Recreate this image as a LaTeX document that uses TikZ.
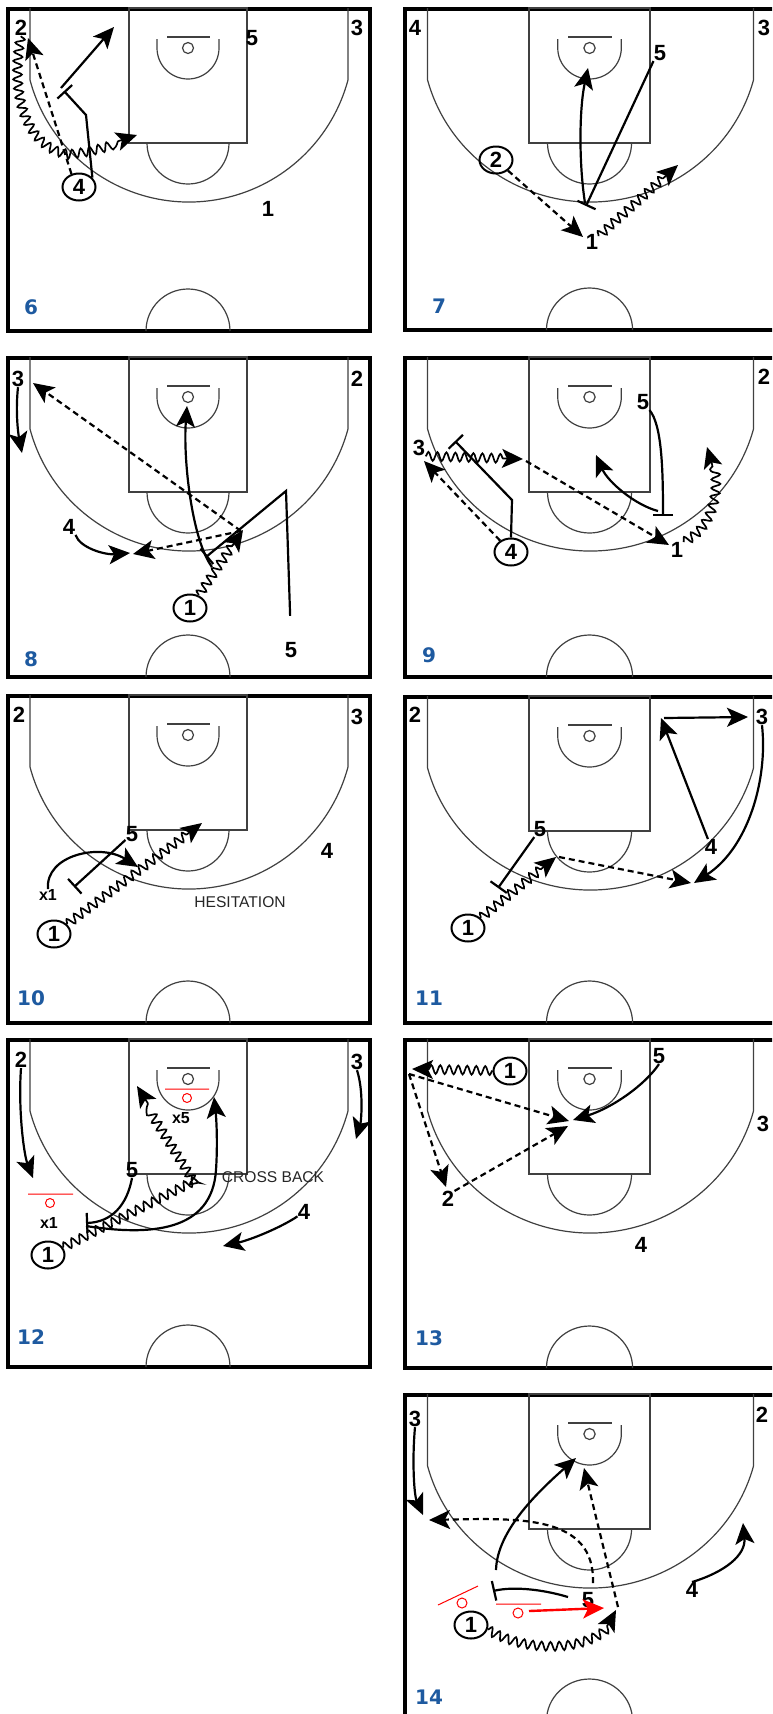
\documentclass[tikz,border=0pt]{standalone}
\usepackage{fontspec}
\setmainfont{Liberation Sans}
\newfontfamily\numfont{DejaVu Sans}
\usetikzlibrary{arrows.meta,shapes.geometric,decorations.pathmorphing}
\definecolor{numblue}{RGB}{30,90,160}

% one half court, drawn from its top left corner
\newcommand{\halfcourt}[1]{%
  \draw[courtframe] (1,1) rectangle (363,#1);
  \draw[cline] (23,0) -- (23,72) arc[start angle=165, end angle=15, radius=164.6] -- (341,0);
  \draw[cline] (122,0) rectangle (240,135);
  \draw[cline] (140,135) arc[start angle=180, end angle=0, radius=41];
  \draw[cline] (160,29) -- (203,29);
  \draw[cline] (181,40) circle[radius=5.5];
  \draw[cline] (150,31) -- (150,40) arc[start angle=180, end angle=0, radius=31] -- (212,31);
  \draw[cline] (139,#1) arc[start angle=180, end angle=360, radius=42];
}

\begin{document}
\begin{tikzpicture}[x=0.5pt, y=-0.5pt,
  >={Stealth[length=10.5pt, width=9.5pt, inset=2.5pt]},
  cline/.style={line width=0.6pt, black!75},
  courtframe/.style={line width=1.6pt},
  pl/.style={font=\bfseries\fontsize{11}{11}\selectfont, inner sep=0pt},
  pc/.style={pl, draw, ellipse, line width=1pt, minimum width=16.5pt, minimum height=13.5pt},
  xdef/.style={font=\bfseries\fontsize{8}{8}\selectfont, inner sep=0pt},
  note/.style={font=\fontsize{7.8}{8}\selectfont, text=black!85, inner sep=0pt},
  num/.style={font=\numfont\bfseries\fontsize{10}{10}\selectfont, text=numblue, inner sep=0pt},
  mv/.style={->, line width=1.1pt},
  pass/.style={mv, dash pattern=on 3pt off 2pt},
  drib/.style={->, line width=0.85pt, decorate, decoration={snake, amplitude=2.2pt, segment length=4.5pt, post length=8pt}},
  scr/.style={-{Bar[width=10pt]}, line width=1.1pt},
  dfn/.style={red, line width=0.5pt},
  redmv/.style={->, red, line width=1.2pt}
]
\useasboundingbox (0,0) rectangle (772,1714);
\clip (0,0) rectangle (772,1714);
\fill[white] (0,0) rectangle (772,1714);

% courts
\begin{scope}[shift={(7,8)}] \halfcourt{323} \end{scope}
\begin{scope}[shift={(404,8)}, xscale=1.025] \halfcourt{322} \end{scope}
\begin{scope}[shift={(7,357)}] \halfcourt{320} \end{scope}
\begin{scope}[shift={(404,357)}, xscale=1.025] \halfcourt{320} \end{scope}
\begin{scope}[shift={(7,695)}] \halfcourt{328} \end{scope}
\begin{scope}[shift={(404,696)}, xscale=1.025] \halfcourt{327} \end{scope}
\begin{scope}[shift={(7,1039)}] \halfcourt{328} \end{scope}
\begin{scope}[shift={(404,1039)}, xscale=1.025] \halfcourt{329} \end{scope}
\begin{scope}[shift={(404,1394)}, xscale=1.025] \halfcourt{327} \end{scope}

% 6
\node[num] (n6) at (31,307) {6};
\node[pl] (p6n2) at (21,28) {2};
\node[pl] (p6n3) at (357,28) {3};
\node[pl] (p6n5) at (252,38) {5};
\node[pl] (p6n1) at (268,209) {1};
\node[pc] (p6n4) at (79,187) {4};
\coordinate (c6a) at (137,135);
\coordinate (c6b) at (28,38);
\coordinate (c6c) at (64,91);
\coordinate (c6d) at (61,88);
\coordinate (c6e) at (114,27);
\draw[drib] (p6n2.south) .. controls (10,95) and (28,145) .. (68,152) .. controls (95,150) and (115,142) .. (c6a);
\draw[pass] (p6n4.120) -- (c6b);
\draw[scr] (p6n4.35) -- (86,115) -- (c6c);
\draw[mv] (c6d) -- (c6e);

% 7
\node[num] (n7) at (439,306) {7};
\node[pl] (p7n4) at (415,28) {4};
\node[pl] (p7n3) at (764,28) {3};
\node[pl] (p7n5) at (660,53) {5};
\node[pl] (p7n1) at (592,242) {1};
\node[pc] (p7n2) at (496,160) {2};
\coordinate (c7a) at (583,237);
\coordinate (c7b) at (678,165);
\coordinate (c7c) at (586,206);
\coordinate (c7d) at (585,203);
\coordinate (c7e) at (588,68);
\draw[pass] (p7n2) -- (c7a);
\draw[drib] (p7n1) -- (c7b);
\draw[scr] (p7n5.south west) -- (c7c);
\draw[mv] (c7d) .. controls (579,165) and (579,110) .. (c7e);

% 8
\node[num] (n8) at (31,659) {8};
\node[pl] (p8n3) at (18,379) {3};
\node[pl] (p8n2) at (357,379) {2};
\node[pl] (p8n4) at (69,527) {4};
\node[pl] (p8n5) at (291,650) {5};
\node[pc] (p8n1) at (190,608) {1};
\coordinate (c8a) at (22,453);
\coordinate (c8b) at (241,531);
\coordinate (c8d) at (33,383);
\coordinate (c8e) at (133,554);
\coordinate (c8f) at (130,553);
\coordinate (c8g) at (243,530);
\coordinate (c8h) at (212,567);
\coordinate (c8i) at (187,406);
\coordinate (c8j) at (206,557);
\draw[mv] (p8n3.south) .. controls (15,415) and (19,438) .. (c8a);
\draw[pass] (c8b) -- (c8d);
\draw[pass] (c8b) -- (c8e);
\draw[mv] (p8n4.south east) .. controls (80,548) and (105,555) .. (c8f);
\draw[drib] (p8n1) -- (c8g);
\draw[mv] (c8h) .. controls (192,540) and (183,460) .. (c8i);
\draw[scr, shorten <=13pt] (p8n5.north) -- (286,491) -- (c8j);

% 9
\node[num] (n9) at (429,655) {9};
\node[pl] (p9n2) at (764,377) {2};
\node[pl] (p9n5) at (643,402) {5};
\node[pl] (p9n3) at (419,448) {3};
\node[pl] (p9n1) at (677,550) {1};
\node[pc] (p9n4) at (511,552) {4};
\coordinate (c9a) at (523,459);
\coordinate (c9b) at (424,461);
\coordinate (c9c) at (455,441);
\coordinate (c9d) at (526,461);
\coordinate (c9e) at (669,545);
\coordinate (c9f) at (663,516);
\coordinate (c9g) at (658,511);
\coordinate (c9h) at (596,455);
\coordinate (c9i) at (707,447);
\draw[drib] (p9n3.south east) -- (c9a);
\draw[pass] (p9n4) -- (c9b);
\draw[scr] (p9n4.north) -- (512,500) -- (c9c);
\draw[pass] (c9d) -- (c9e);
\draw[scr] (p9n5.south east) .. controls (662,425) and (663,470) .. (c9f);
\draw[mv] (c9g) .. controls (635,505) and (608,482) .. (c9h);
\draw[drib] (p9n1.north east) .. controls (716,525) and (720,480) .. (c9i);

% 10
\node[num] (n10) at (31,998) {10};
\node[pl] (p10n2) at (19,715) {2};
\node[pl] (p10n3) at (357,717) {3};
\node[pl] (p10n5) at (132,834) {5};
\node[pl] (p10n4) at (327,851) {4};
\node[xdef] (p10x1) at (48,895) {x1};
\node[pc] (p10n1) at (54,934) {1};
\node[note] (t10) at (240,902) {HESITATION};
\coordinate (c10a) at (74,887);
\coordinate (c10b) at (138,867);
\coordinate (c10c) at (202,823);
\draw[scr] (p10n5) -- (c10a);
\draw[mv] (p10x1.north) .. controls (45,855) and (100,843) .. (c10b);
\draw[drib] (p10n1) -- (c10c);

% 11
\node[num] (n11) at (429,998) {11};
\node[pl] (p11n2) at (415,715) {2};
\node[pl] (p11n3) at (762,717) {3};
\node[pl] (p11n5) at (540,829) {5};
\node[pl] (p11n4) at (711,847) {4};
\node[pc] (p11n1) at (468,928) {1};
\coordinate (c11a) at (498,888);
\coordinate (c11b) at (556,857);
\coordinate (c11c) at (559,857);
\coordinate (c11d) at (691,883);
\coordinate (c11e) at (661,718);
\coordinate (c11f) at (664,718);
\coordinate (c11g) at (748,717);
\coordinate (c11h) at (694,883);
\draw[scr] (p11n5) -- (c11a);
\draw[drib] (p11n1) -- (c11b);
\draw[pass] (c11c) -- (c11d);
\draw[mv] (p11n4) -- (c11e);
\draw[mv] (c11f) -- (c11g);
\draw[mv] (p11n3.south) .. controls (768,780) and (748,848) .. (c11h);

% 12
\node[num] (n12) at (31,1337) {12};
\node[pl] (p12n2) at (21,1060) {2};
\node[pl] (p12n3) at (357,1062) {3};
\node[pl] (p12n5) at (132,1170) {5};
\node[pl] (p12n4) at (304,1212) {4};
\node[xdef] (p12x1) at (49,1223) {x1};
\node[xdef] (p12x5) at (181,1118) {x5};
\node[pc] (p12n1) at (48,1255) {1};
\node[note] (t12) at (273,1177) {CROSS BACK};
\draw[dfn] (28,1194) -- (73,1194) (50,1203) circle[radius=4.5];
\draw[dfn] (165,1089) -- (209,1089) (187,1098) circle[radius=4.5];
\coordinate (c12a) at (33,1178);
\coordinate (c12b) at (356,1139);
\coordinate (c12c) at (223,1246);
\coordinate (c12d) at (86,1223);
\coordinate (c12e) at (196,1180);
\coordinate (c12f) at (137,1086);
\coordinate (c12g) at (86,1226);
\coordinate (c12h) at (214,1097);
\draw[mv] (p12n2.south) .. controls (18,1110) and (24,1155) .. (c12a);
\draw[mv] (p12n3.south) .. controls (364,1092) and (361,1122) .. (c12b);
\draw[mv] (p12n4) .. controls (280,1228) and (250,1240) .. (c12c);
\draw[scr] (p12n5.south) .. controls (127,1205) and (112,1222) .. (c12d);
\draw[drib] (p12n1) -- (c12e) -- (c12f);
\draw[mv] (c12g) .. controls (150,1236) and (212,1232) .. (216,1170) .. controls (218,1140) and (216,1115) .. (c12h);

% 13
\node[num] (n13) at (429,1338) {13};
\node[pl] (p13n5) at (659,1056) {5};
\node[pl] (p13n3) at (763,1124) {3};
\node[pl] (p13n2) at (448,1199) {2};
\node[pl] (p13n4) at (641,1245) {4};
\node[pc] (p13n1) at (510,1071) {1};
\coordinate (c13a) at (412,1069);
\coordinate (c13b) at (409,1074);
\coordinate (c13c) at (569,1121);
\coordinate (c13d) at (446,1187);
\coordinate (c13e) at (568,1126);
\coordinate (c13f) at (573,1120);
\draw[drib] (p13n1) -- (c13a);
\draw[pass] (c13b) -- (c13c);
\draw[pass] (c13b) -- (c13d);
\draw[pass] (p13n2.north east) -- (c13e);
\draw[mv] (p13n5.south) .. controls (645,1085) and (612,1108) .. (c13f);

% 14
\node[num] (n14) at (429,1697) {14};
\node[pl] (p14n3) at (415,1419) {3};
\node[pl] (p14n2) at (762,1415) {2};
\node[pl] (p14n4) at (692,1590) {4};
\node[pl] (p14n5) at (588,1600) {5};
\node[pc] (p14n1) at (471,1625) {1};
\draw[dfn] (438,1605) -- (478,1586) (462,1603) circle[radius=5];
\draw[dfn] (496,1604) -- (541,1604) (518,1613) circle[radius=5];
\coordinate (c14a) at (423,1515);
\coordinate (c14b) at (743,1523);
\coordinate (c14c) at (593,1583);
\coordinate (c14d) at (429,1520);
\coordinate (c14e) at (618,1607);
\coordinate (c14f) at (584,1468);
\coordinate (c14g) at (496,1570);
\coordinate (c14h) at (576,1458);
\coordinate (c14i) at (568,1597);
\coordinate (c14j) at (493,1591);
\coordinate (c14k) at (529,1611);
\coordinate (c14l) at (604,1608);
\coordinate (c14m) at (616,1610);
\draw[mv] (p14n3.south) .. controls (412,1460) and (414,1495) .. (c14a);
\draw[mv] (p14n4.north) .. controls (725,1572) and (746,1555) .. (c14b);
\draw[pass] (c14c) .. controls (595,1515) and (520,1518) .. (c14d);
\draw[pass] (c14e) -- (c14f);
\draw[mv] (c14g) .. controls (497,1530) and (540,1490) .. (c14h);
\draw[scr] (c14i) .. controls (545,1590) and (515,1586) .. (c14j);
\draw[redmv] (c14k) -- (c14l);
\draw[drib] (p14n1.-15) .. controls (530,1655) and (605,1650) .. (c14m);
\end{tikzpicture}
\end{document}
